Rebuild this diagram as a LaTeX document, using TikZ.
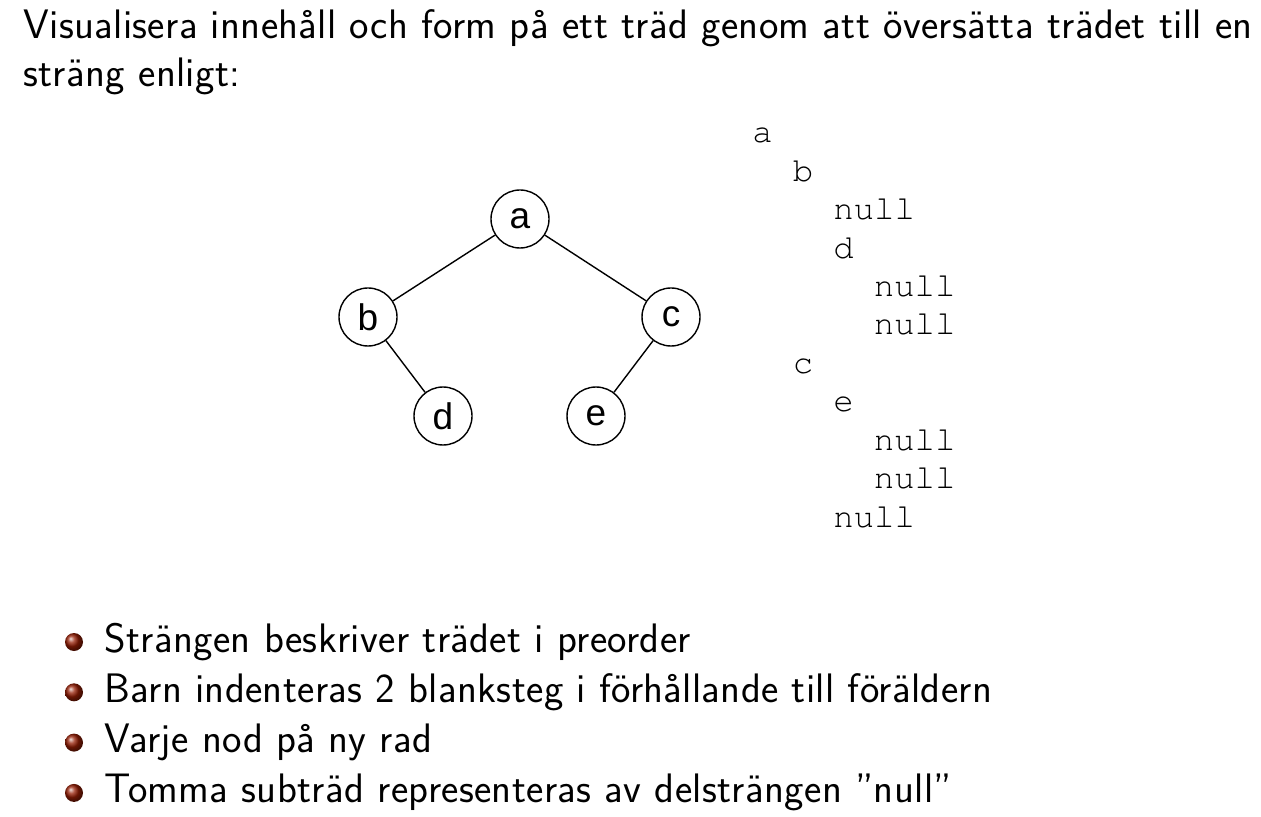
\documentclass[tikz,border=0pt]{standalone}
\usepackage[T1,TU]{fontenc}
\usepackage{fontspec}
\setsansfont{Latin Modern Sans}[LetterSpace=0.9]
\newfontfamily\treefont{Liberation Sans}
\newcommand\courierfont{\fontencoding{T1}\fontfamily{pcr}\selectfont}
\definecolor{ballred}{RGB}{150,30,5}

\begin{document}
\begin{tikzpicture}[x=0.5pt,y=-0.5pt,
    every node/.style={inner sep=0pt},
    treenode/.style={circle,draw,line width=0.7pt,minimum size=29pt,
      font=\treefont\fontsize{18.5}{20}\selectfont},
    slidetext/.style={anchor=base west,font=\sffamily\fontsize{20.6}{24}\selectfont},
    monotext/.style={anchor=base west,font=\courierfont\fontsize{17}{19}\selectfont},
    bulletball/.style={circle,shading=ball,ball color=ballred,minimum size=9pt}]
  \useasboundingbox (0,0) rectangle (1261,817);
  % uppgiftstext
  \node[slidetext] (title1) at (23,39)
    {Visualisera innehåll och form på ett träd genom att översätta trädet till en};
  \node[slidetext] (title2) at (23,87) {sträng enligt:};
  % trädet
  \node[treenode] (a) at (520,219) {a};
  \node[treenode] (b) at (368,317) {b};
  \node[treenode] (c) at (671,317) {c};
  \node[treenode] (d) at (443,416) {d};
  \node[treenode] (e) at (596,416) {e};
  \foreach \i/\j in {a/b, a/c, b/d, c/e} {
    \path[line width=0.7pt] (\i) edge (\j);
  };
  % strängen
  \foreach \lvl/\word [count=\i] in {0/a, 1/b, 2/null, 2/d, 3/null, 3/null,
      1/c, 2/e, 3/null, 3/null, 2/null} {
    \node[monotext] (row\i) at ({752+40.5*\lvl},{143+38.4*(\i-1)}) {\word};
  };
  % punkter
  \foreach \txt [count=\i] in {Strängen beskriver trädet i preorder,
      Barn indenteras 2 blanksteg i förhållande till föräldern,
      Varje nod på ny rad,
      Tomma subträd representeras av delsträngen ''null''} {
    \node[bulletball] (ball\i) at (74,{642+50.3*(\i-1)}) {};
    \node[slidetext] (item\i) at (104,{652+50.3*(\i-1)}) {\txt};
  };
\end{tikzpicture}
\end{document}
